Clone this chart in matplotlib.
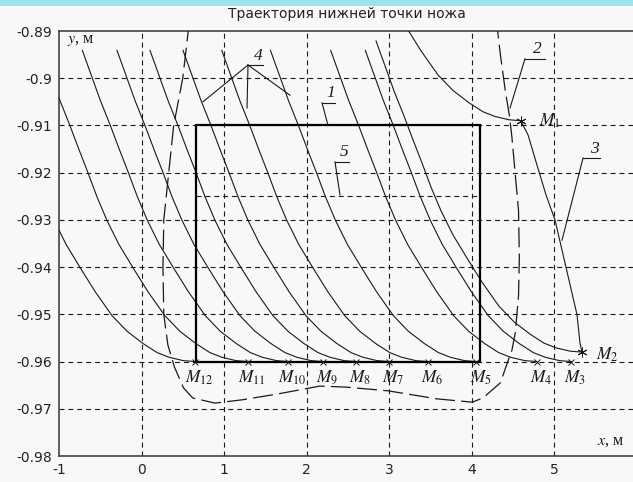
import matplotlib
matplotlib.use('Agg')
import matplotlib.pyplot as plt
from matplotlib.patches import Rectangle

plt.rcParams['mathtext.fontset'] = 'stix'
plt.rcParams['axes.unicode_minus'] = False
plt.rcParams['font.family'] = 'DejaVu Sans'

# Points M1..M12 where the knife tip passes (x, y in metres)
m_names = ['1', '2', '3', '4', '5', '6', '7', '8', '9', '10', '11', '12']
m_x = [4.60, 5.34, 5.21, 4.79, 4.06, 3.47, 3.00, 2.60, 2.20, 1.78, 1.29, 0.65]
m_y = [-0.909, -0.958, -0.960, -0.960, -0.960, -0.960, -0.960, -0.960, -0.960, -0.960, -0.960, -0.960]

# Shape of one tip path, measured back from the point where it ends
path_dx = [-2.497, -2.388, -2.279, -2.158, -2.048, -1.939, -1.830, -1.709, -1.564,
           -1.394, -1.212, -1.006, -0.824, -0.630, -0.461, -0.315, -0.145, 0.0]
path_dy = [0.0659, 0.0606, 0.0553, 0.0500, 0.0449, 0.0400, 0.0349, 0.0299, 0.0248,
           0.0199, 0.0148, 0.0097, 0.0064, 0.0038, 0.0019, 0.0009, 0.0002, 0.0]

# Curve 3: M1 -> M2
c3_x = [4.600, 4.685, 4.794, 4.903, 5.012, 5.145, 5.279, 5.315, 5.339]
c3_y = [-0.9091, -0.9120, -0.9184, -0.9247, -0.9300, -0.9400, -0.9501, -0.9561, -0.9580]

# Curve 2 (dashed contour)
c2_x = [0.58, 0.50, 0.39, 0.33, 0.27, 0.26, 0.27, 0.32, 0.40, 0.51, 0.62, 0.89, 1.22,
        1.64, 2.16, 2.47, 2.99, 3.58, 4.01, 4.14, 4.35, 4.44, 4.49, 4.53, 4.57, 4.58,
        4.57, 4.53, 4.49, 4.46, 4.41, 4.35, 4.31]
c2_y = [-0.888, -0.900, -0.910, -0.920, -0.930, -0.940, -0.950, -0.9565, -0.9612, -0.9656,
        -0.9677, -0.9688, -0.9681, -0.9669, -0.9652, -0.9654, -0.9662, -0.9679, -0.9686,
        -0.9677, -0.9645, -0.9600, -0.9576, -0.9540, -0.9460, -0.9380, -0.9280, -0.9203,
        -0.9125, -0.9080, -0.9027, -0.8950, -0.8890]

# Rectangle 1 and line 5
rect_x0, rect_x1 = 0.66, 4.10
rect_y0, rect_y1 = -0.96, -0.91
line5_y = -0.925

# Callouts: number, underline (x0, x1, y), leader end points
callouts = [
    ('1', (2.188, 2.345, -0.9052), [(2.261, -0.9100)]),
    ('2', (4.648, 4.891, -0.8959), [(4.467, -0.9063)]),
    ('3', (5.352, 5.558, -0.9169), [(5.097, -0.9343)]),
    ('4', (1.291, 1.473, -0.8972), [(0.745, -0.9050), (1.279, -0.9063), (1.800, -0.9036)]),
    ('5', (2.345, 2.515, -0.9177), [(2.406, -0.9247)]),
]

bg = '#f8f8f8'
ink = '#1a1a1a'

fig = plt.figure(figsize=(6.33, 4.82), dpi=100, facecolor=bg)
# cyan strip along the top
fig.patches.append(Rectangle((0, 1 - 6 / 482), 1, 6 / 482, transform=fig.transFigure,
                             facecolor='#9fe3ea', edgecolor='none'))
fig.text(347 / 633, 1 - 14 / 482, 'Траектория нижней точки ножа', ha='center', va='center',
         fontsize=10, color='#222222')

ax = fig.add_axes([59 / 633, 26 / 482, 577.5 / 633, 425 / 482], facecolor=bg)
ax.set_xlim(-1, 6)
ax.set_ylim(-0.98, -0.89)
ax.set_xticks([-1, 0, 1, 2, 3, 4, 5])
ax.set_yticks([-0.98, -0.97, -0.96, -0.95, -0.94, -0.93, -0.92, -0.91, -0.90, -0.89])
ax.set_yticklabels(['-0.98', '-0.97', '-0.96', '-0.95', '-0.94', '-0.93', '-0.92',
                    '-0.91', '-0.9', '-0.89'])
ax.tick_params(length=0, labelsize=10, pad=5, colors='#222222')
for s in ax.spines.values():
    s.set_color('#444444')
    s.set_linewidth(1.2)

# dashed grid
for gx in [0, 1, 2, 3, 4, 5]:
    ax.axvline(gx, color=ink, lw=0.8, ls=(0, (4.5, 3.5)), zorder=1)
for gy in [-0.97, -0.96, -0.95, -0.94, -0.93, -0.92, -0.91, -0.90]:
    ax.axhline(gy, color=ink, lw=0.8, ls=(0, (4.5, 3.5)), zorder=1)

# family of tip paths, each ending at its M point
for mx, my in zip(m_x, m_y):
    ax.plot([mx + d for d in path_dx], [my + d for d in path_dy], color=ink, lw=0.8, zorder=3)

ax.plot(c3_x, c3_y, color=ink, lw=0.8, zorder=3)
ax.plot(c2_x, c2_y, color=ink, lw=0.9, ls=(0, (16, 5)), zorder=3)

ax.add_patch(Rectangle((rect_x0, rect_y0), rect_x1 - rect_x0, rect_y1 - rect_y0,
                       fill=False, edgecolor='black', lw=1.6, zorder=4))
ax.plot([rect_x0, rect_x1], [line5_y, line5_y], color=ink, lw=0.8, ls=(0, (4.5, 3.5)), zorder=3)

# markers and labels of the points
ax.plot(m_x[2:], m_y[2:], ls='none', marker='x', ms=4, mew=0.7, color=ink, zorder=5)
ax.plot(m_x[:2], m_y[:2], ls='none', marker=(6, 2, 0), ms=7, mew=0.7, color=ink, zorder=5)
for i, (name, mx, my) in enumerate(zip(m_names, m_x, m_y)):
    lab = r'$M_{%s}$' % name
    if i == 0:
        ax.annotate(lab, (mx, my), xytext=(13, 0), textcoords='offset points',
                    ha='left', va='center', fontsize=12.5, color=ink)
    elif i == 1:
        ax.annotate(lab, (mx, my), xytext=(10, -2), textcoords='offset points',
                    ha='left', va='center', fontsize=12.5, color=ink)
    else:
        ax.annotate(lab, (mx, my), xytext=(3, -5), textcoords='offset points',
                    ha='center', va='top', fontsize=12.5, color=ink)

for num, (ux0, ux1, uy), ends in callouts:
    ax.plot([ux0, ux1], [uy, uy], color=ink, lw=0.8, zorder=5)
    for ex, ey in ends:
        ax.plot([ux0, ex], [uy, ey], color=ink, lw=0.8, zorder=5)
    ax.annotate(num, ((ux0 + ux1) / 2 + 0.03, uy), xytext=(0, 1), textcoords='offset points',
                ha='center', va='bottom', fontsize=12.5, fontstyle='italic',
                family='Liberation Serif', color=ink)

ax.text(-0.9, -0.8918, r'$y$, м', ha='left', va='center', fontsize=11.5,
        family='Liberation Serif', color=ink)
ax.text(5.52, -0.9768, r'$x$, м', ha='left', va='center', fontsize=11.5,
        family='Liberation Serif', color=ink)

fig.savefig('out.png', dpi=100, facecolor=bg)
